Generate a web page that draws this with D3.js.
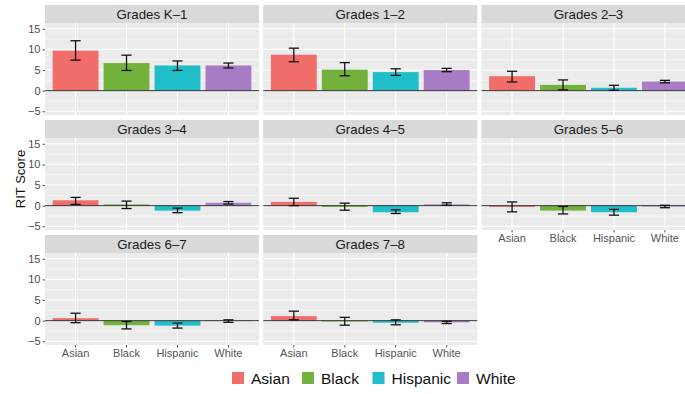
<!DOCTYPE html>
<html>
<head>
<meta charset="utf-8">
<script src="https://cdn.jsdelivr.net/npm/d3@7"></script>
<style>
  html, body { margin: 0; padding: 0; background: #fff; }
  svg { display: block; font-family: "Liberation Sans", Arial, sans-serif; }
</style>
</head>
<body>
<svg id="chart" width="685" height="394"></svg>
<script>
// Grade-to-grade RIT score change by group, with error bars
const grades = ["Grades K\u20131", "Grades 1\u20132", "Grades 2\u20133", "Grades 3\u20134",
                "Grades 4\u20135", "Grades 5\u20136", "Grades 6\u20137", "Grades 7\u20138"];
const groups = ["Asian", "Black", "Hispanic", "White"];
const groupColors = ["#F06D69", "#72B23C", "#1FBEC8", "#A97DC6"];

const means = [
  [9.7, 6.7, 6.1, 6.1],
  [8.7, 5.1, 4.5, 5.0],
  [3.5, 1.4, 0.7, 2.2],
  [1.3, 0.3, -1.2, 0.7],
  [0.9, -0.3, -1.6, 0.3],
  [-0.3, -1.2, -1.6, -0.2],
  [0.6, -1.1, -1.2, -0.1],
  [1.1, -0.2, -0.5, -0.4]
];
const lower = [
  [7.4, 4.9, 4.9, 5.5],
  [7.0, 3.6, 3.7, 4.6],
  [2.1, 0.2, 0.1, 1.9],
  [0.3, -0.7, -1.7, 0.4],
  [0.0, -1.1, -1.9, 0.1],
  [-1.5, -2.0, -2.3, -0.5],
  [-0.5, -2.0, -1.8, -0.4],
  [0.2, -1.1, -1.0, -0.7]
];
const upper = [
  [12.1, 8.6, 7.2, 6.7],
  [10.3, 6.8, 5.3, 5.4],
  [4.7, 2.6, 1.3, 2.5],
  [2.0, 1.1, -0.6, 1.0],
  [1.8, 0.6, -1.0, 0.7],
  [0.9, -0.2, -0.9, 0.1],
  [1.8, -0.2, -0.6, 0.2],
  [2.3, 0.8, 0.2, -0.15]
];
const yTicks = [-5, 0, 5, 10, 15];
const yMinor = [-2.5, 2.5, 7.5, 12.5];

const svg = d3.select("#chart");

// facet grid geometry
const ncol = 3;
const panelW = 214, panelH = 92, stripH = 18;
const colStep = 218.25, rowStep = 115;
const left0 = 45, top0 = 5;

const x = d3.scaleBand().domain(groups).range([0, panelW]).paddingInner(0.1).paddingOuter(0.15);
const y = d3.scaleLinear().domain([-5.9, 16.4]).range([panelH, 0]);
const color = d3.scaleOrdinal().domain(groups).range(groupColors);

// panels that carry the x axis (bottom of each column)
const xAxisPanels = new Set([5, 6, 7]);

grades.forEach((g, i) => {
  const col = i % ncol, row = Math.floor(i / ncol);
  const px = left0 + col * colStep;
  const stripTop = top0 + row * rowStep;
  const py = stripTop + stripH;

  // strip
  svg.append("rect").attr("x", px).attr("y", stripTop).attr("width", panelW).attr("height", stripH)
    .attr("fill", "#D9D9D9");
  svg.append("text").attr("x", px + panelW / 2).attr("y", stripTop + stripH / 2 + 4.5)
    .attr("text-anchor", "middle").attr("font-size", 13.3).attr("fill", "#1a1a1a").text(g);

  const p = svg.append("g").attr("transform", `translate(${px},${py})`);
  p.append("rect").attr("width", panelW).attr("height", panelH).attr("fill", "#EBEBEB");

  // grid
  p.selectAll(".ymin").data(yMinor).join("line")
    .attr("x1", 0).attr("x2", panelW).attr("y1", d => y(d)).attr("y2", d => y(d))
    .attr("stroke", "#fff").attr("stroke-width", 0.5);
  p.selectAll(".ymaj").data(yTicks).join("line")
    .attr("x1", 0).attr("x2", panelW).attr("y1", d => y(d)).attr("y2", d => y(d))
    .attr("stroke", "#fff").attr("stroke-width", 1.1);
  p.selectAll(".xmaj").data(groups).join("line")
    .attr("x1", d => x(d) + x.bandwidth() / 2).attr("x2", d => x(d) + x.bandwidth() / 2)
    .attr("y1", 0).attr("y2", panelH)
    .attr("stroke", "#fff").attr("stroke-width", 1.1);

  const rows = groups.map((k, j) => ({ k, v: means[i][j], lo: lower[i][j], hi: upper[i][j] }));

  // bars
  p.selectAll(".bar").data(rows).join("rect")
    .attr("x", d => x(d.k)).attr("width", x.bandwidth())
    .attr("y", d => y(Math.max(0, d.v))).attr("height", d => Math.abs(y(d.v) - y(0)))
    .attr("fill", d => color(d.k));

  // zero reference line
  p.append("line").attr("x1", 0).attr("x2", panelW).attr("y1", y(0)).attr("y2", y(0))
    .attr("stroke", "#333").attr("stroke-width", 1);

  // error bars
  const capW = x.step() * 0.1;
  const eb = p.selectAll(".eb").data(rows).join("g")
    .attr("transform", d => `translate(${x(d.k) + x.bandwidth() / 2},0)`);
  eb.append("line").attr("x1", 0).attr("x2", 0).attr("y1", d => y(d.hi)).attr("y2", d => y(d.lo))
    .attr("stroke", "#111").attr("stroke-width", 1.3);
  eb.append("line").attr("x1", -capW).attr("x2", capW).attr("y1", d => y(d.hi)).attr("y2", d => y(d.hi))
    .attr("stroke", "#111").attr("stroke-width", 1.3);
  eb.append("line").attr("x1", -capW).attr("x2", capW).attr("y1", d => y(d.lo)).attr("y2", d => y(d.lo))
    .attr("stroke", "#111").attr("stroke-width", 1.3);

  // y axis on the first column
  if (col === 0) {
    const ya = p.append("g").call(d3.axisLeft(y).tickValues(yTicks).tickSize(2.5).tickPadding(2)
      .tickFormat(d => d < 0 ? "\u2212" + Math.abs(d) : d));
    ya.select(".domain").remove();
    ya.selectAll("line").attr("stroke", "#555");
    ya.selectAll("text").attr("font-size", 11).attr("fill", "#4d4d4d")
      .attr("font-family", "Liberation Sans, Arial, sans-serif");
  }
  // x axis under the last panel in each column
  if (xAxisPanels.has(i)) {
    const xa = p.append("g").attr("transform", `translate(0,${panelH})`)
      .call(d3.axisBottom(x).tickSize(2.5).tickPadding(2));
    xa.select(".domain").remove();
    xa.selectAll("line").attr("stroke", "#555");
    xa.selectAll("text").attr("font-size", 11).attr("fill", "#555")
      .attr("font-family", "Liberation Sans, Arial, sans-serif");
  }
});

// y axis title
svg.append("text").attr("transform", "translate(25,179) rotate(-90)")
  .attr("text-anchor", "middle").attr("font-size", 13).attr("fill", "#111").text("RIT Score");

// legend
const legendItems = [
  { k: "Asian", x: 232 }, { k: "Black", x: 302 }, { k: "Hispanic", x: 372.5 }, { k: "White", x: 457 }
];
const lg = svg.append("g");
legendItems.forEach(it => {
  lg.append("rect").attr("x", it.x).attr("y", 372).attr("width", 12).attr("height", 12)
    .attr("fill", color(it.k));
  lg.append("text").attr("x", it.x + 19).attr("y", 384).attr("font-size", 15.5)
    .attr("fill", "#111").text(it.k);
});
</script>
</body>
</html>
